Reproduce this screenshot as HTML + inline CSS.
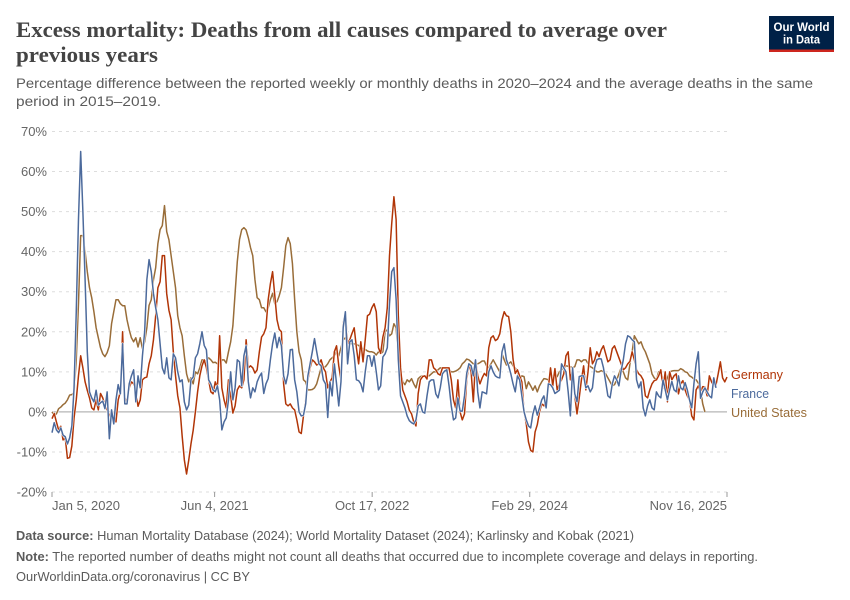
<!DOCTYPE html>
<html lang="en">
<head>
<meta charset="utf-8">
<title>Excess mortality</title>
<style>
html,body{margin:0;padding:0;background:#fff;}
svg{display:block;font-family:"Liberation Sans",sans-serif;}
</style>
</head>
<body>
<svg id="chart" xmlns="http://www.w3.org/2000/svg" width="850" height="600" viewBox="0 0 850 600">
  <rect width="850" height="600" fill="#fff"/>
  <g font-family="'Liberation Serif',serif" font-weight="700" font-size="22" fill="#444">
    <text x="16" y="37" textLength="651" lengthAdjust="spacingAndGlyphs">Excess mortality: Deaths from all causes compared to average over</text>
    <text x="16" y="62" textLength="142" lengthAdjust="spacingAndGlyphs">previous years</text>
  </g>
  <g font-size="14" fill="#5b5b5b">
    <text x="16" y="88" textLength="797" lengthAdjust="spacingAndGlyphs">Percentage difference between the reported weekly or monthly deaths in 2020–2024 and the average deaths in the same</text>
    <text x="16" y="106" textLength="145" lengthAdjust="spacingAndGlyphs">period in 2015–2019.</text>
  </g>
  <g>
    <rect x="769" y="16" width="65" height="36" fill="#002147"/>
    <rect x="769" y="49.5" width="65" height="2.5" fill="#ce261e"/>
    <text x="801.5" y="31" text-anchor="middle" font-size="12" font-weight="700" fill="#fff" textLength="56" lengthAdjust="spacingAndGlyphs">Our World</text>
    <text x="801.5" y="43.5" text-anchor="middle" font-size="12" font-weight="700" fill="#fff" textLength="37" lengthAdjust="spacingAndGlyphs">in Data</text>
  </g>
  <g id="grid"></g>
  <g id="xaxis"></g>
  <g id="series"></g>
  <g font-size="13">
    <text x="731" y="379" fill="#B13507" textLength="52" lengthAdjust="spacingAndGlyphs">Germany</text>
    <text x="731" y="398" fill="#4C6A9C" textLength="38" lengthAdjust="spacingAndGlyphs">France</text>
    <text x="731" y="417" fill="#996D39" textLength="76" lengthAdjust="spacingAndGlyphs">United States</text>
  </g>
  <g font-size="13" fill="#5b5b5b">
    <text x="16" y="540" textLength="618" lengthAdjust="spacingAndGlyphs"><tspan font-weight="700">Data source:</tspan> Human Mortality Database (2024); World Mortality Dataset (2024); Karlinsky and Kobak (2021)</text>
    <text x="16" y="561" textLength="742" lengthAdjust="spacingAndGlyphs"><tspan font-weight="700">Note:</tspan> The reported number of deaths might not count all deaths that occurred due to incomplete coverage and delays in reporting.</text>
    <text x="16" y="581" textLength="234" lengthAdjust="spacingAndGlyphs">OurWorldinData.org/coronavirus | CC BY</text>
  </g>
</svg>
<script>
const startDate = "2020-01-05";
const endDate = "2025-11-16";
const yTickValues = [-20, -10, 0, 10, 20, 30, 40, 50, 60, 70];
const xTickDates = ["2020-01-05", "2021-06-04", "2022-10-17", "2024-02-29", "2025-11-16"];
const xTickLabels = ["Jan 5, 2020", "Jun 4, 2021", "Oct 17, 2022", "Feb 29, 2024", "Nov 16, 2025"];

const franceValues = [
-5.2,-2.7,-4.5,-5.2,-4,-5.8,-6.2,-8,-6.5,-3.5,
6,25,48,65,50,33,15,5,3.5,2.5,
5.4,1.7,2.3,2.7,0.8,5,-6.7,0.5,-3,3,
6.8,4.5,17,2,2,7,9,10.5,2.5,9,
6,14,20,33,38,35,29.5,26,23,17,
11,9.5,13.5,8.5,8,14.5,13.5,10,7.5,8,
2.5,0.5,1.7,8,8.7,13.5,14.5,17,20,16.6,15.5,8,
7,5.5,5,6.5,3,-4.5,-2.5,-1.5,3,10,3,6,13,12.5,6.5,14,16.5,7.5,3.5,6,5,7.5,8.8,9.7,
4.6,7,8.3,13,17,19.7,16,18.6,16.5,9,7,9.5,15.5,15.6,8,5,0,-1,-0.8,2,9,12,15,18.3,15,12,11.5,8,7,-1.4,
7.5,4,12,7,1.5,7.5,21,25,12,17.5,18,14,8,7.8,7,5,10,14,14,11.4,14,10,5.5,
6.5,13.7,14.5,16,27,35,36,28,13,4,2.5,1,-1,-2.2,-2.7,-3,-2,1.5,2,0,-0.3,4,7.5,8,8,4.5,3.5,6,9.5,10.2,10.5,6.5,1.5,-2,-1.5,3.5,0.2,0.2,4,9.6,12,11.5,9,13,5,1,5,4.8,4.5,10,11.5,10,9,8.6,8.5,15,17,13,11.5,9.5,7,5,9,8,4,0,-2,-3.5,-4,-0.5,1.5,-0.8,1,3,4,1,7,6.8,6,4.6,5,5.4,
12,11,10,5,-1,11,4.5,2.5,8.8,9,9,6,6.5,5,6,11,13,13.3,13.2,11,7.5,4,3.5,7,9,8,6.5,10.3,13,17,19,18.7,18,17.5,8,6,7.5,1,-1,1.5,3,1,0.5,5,4,3.5,8,5.5,3,5.5,7.6,5.5,5,9,6,5.5,7.3,5.5,3,1,7,12,15,3.4,5,6,5,4,3.5,8.5,6
];

const germanyValues = [
-1.7,-0.4,-2.5,-4.5,-3.6,-7,-6.5,-11.6,-11.4,-8.5,
-1.5,3,9,14,11,7.5,5.4,3.5,1,0.5,
3,0.5,4.6,3.5,1.5,0.5,-1,0,-0.5,-2.5,
3,5,20,3.5,2.5,6,7.5,7,5,1.4,
3,8,8.5,8.7,12,14,18,24,31,32.5,
39,39,29.5,25.4,23,15,9,4,1,-6,
-12,-15.5,-12,-8,-4.6,0,5,9,11.5,13,11,8,
5,4.5,7.5,6,19,6,3,1,8,4,-0.3,1.5,5.5,6.5,6,8,18,11,11.5,11,9.7,10.5,15,18.7,
19.5,21,28,32,35,29,23,20.6,20,7,2,1.5,2,1,0.5,-2,-5,-5.4,-1,3,8,11,13,12.5,11.7,12,13,11,10,6,
7.5,8.5,15,16.5,11.5,8,22,25,17,18,19.6,21,16,12,17.5,12.5,18,24,24.4,26,27,25,16,
14.6,18.7,21,26,39,47,53.7,48,24,11,5.5,4,2.5,0.4,-0.5,-2.5,-3.5,4.6,8,8.8,9,8.2,13,13,11,10.5,9.5,9.2,11,11,11,11,8,3,1,8,0,-2,-0.5,8,12,10,2.5,13,9,7,8.5,9.6,9,16,18.5,19,17.8,18.2,19.5,23,25,24,23.8,20,13.2,9.6,10.5,9,7.5,0,-3,-7.5,-9.6,-10,-5,-3.2,0,2,1.5,3,6,11,6.5,10.8,5.5,7,
8,9.5,14,15,8,10.5,4,-0.5,3.5,8,11.5,5.5,10,16,12,13,15,13.8,15.5,16.5,14.5,12.5,13,15.8,16.5,15,13.5,12,10.5,11,12,12.6,15,13,10.5,9.5,9,8,4,3.5,5.5,7,7.8,8,9,10.5,6,10,2.5,10,8,9,9.5,4.5,7,7.8,5.5,4,3,-1,-2,5.5,6.5,5,6.3,6.2,4,9,7.5,6.5,6.7,9.5,12.5,8.5,7.5,8.7
];

const unitedStatesValues = [
0,-0.8,-0.5,0.8,1.2,1.8,2.2,3,4.2,4.3,
5,13,27,44,44,40,35,31,28.5,25,
21,18.5,16,14.5,13.8,14.8,16.5,22,25,28,
28,27,26.5,26.5,23,20.5,18.5,17.5,18.5,16.2,
18.5,15.8,17.5,21,26.6,28,33,36,42,45.5,
46.5,51.5,45,43,39,35,31,24,21,19,
14,9.5,7.5,8.5,7,10,9.5,11,13,13,12.5,13.5,
13,12.3,12.4,12,11.5,13,13,12.2,15,17.5,21.5,29.6,37.5,43,45.5,46,45.4,43.5,41,39,33,28.5,28,26,
26,25,26,28,29.6,27,27.5,29,31,36,41.5,43.5,42,37,28,20,15,13,8,7.5,5.5,5.5,5.6,6,7,9,11,11,11.3,12,
13,13.5,14,15,14,16,18,18.5,17.3,17,17,17,16.8,16.6,16,15.8,15.6,15.2,15,15,14.8,14.2,15,
14.5,15,20,20.5,19,19.5,22,21,14,10,7.5,6.8,8,7.5,8.3,7,6,8.3,8.8,9,9,9,9,9.5,10,10,10.5,11,11,11,11,10.5,10,10,10.2,10.5,11,12,12.5,13.2,13,12.5,12,12,12,12.3,12.7,12.7,11.5,11,12,13,12,11,10,14.5,13,11.7,12,12.5,11.5,11,10,8,9,8.8,5.8,7.5,6.5,5.4,6.5,5,6.5,7.5,8.3,8.2,8,8.5,9,9,8.8,10,
10.5,11,11.5,11.4,11.3,11,11.3,13,13,12.5,13,13,12,11.3,11,10.5,10,10,10.3,10,9.5,8.5,7.5,6.5,6.8,8,9.5,11,10,8.5,8,12,15,19,18,17,17.5,16,15,13.5,12,9.5,8.5,8,10,9.8,8,7,8.5,10,10.2,10.3,10.3,10.3,10.8,10.5,10,9.8,9,8.7,8.2,8,7.2,5.5,2,0
];

const seriesNames = ["united-states", "germany", "france"];
const seriesColors = ["#996D39", "#B13507", "#4C6A9C"];
const seriesData = [unitedStatesValues, germanyValues, franceValues];

const SVGNS = "http://www.w3.org/2000/svg";
const plot = { left: 52, right: 727, top: 131.5, bottom: 492 };
const DAY = 86400000;
const t0 = Date.parse(startDate);
const t1 = Date.parse(endDate);
function xScaleTime(t) { return plot.left + (t - t0) / (t1 - t0) * (plot.right - plot.left); }
function xScaleWeek(i) { return xScaleTime(t0 + i * 7 * DAY); }
function yScale(v) { return plot.bottom - (v + 20) / 90 * (plot.bottom - plot.top); }

const gridG = document.getElementById("grid");
yTickValues.forEach(function (v) {
  const y = yScale(v);
  const line = document.createElementNS(SVGNS, "line");
  
  
  line.setAttribute("x1", plot.left);
  line.setAttribute("x2", plot.right);
  line.setAttribute("y1", y);
  line.setAttribute("y2", y);
  if (v === 0) {
    line.setAttribute("stroke", "#b5b5b5");
    line.setAttribute("stroke-width", "1.2");
  } else {
    line.setAttribute("stroke", "#dddddd");
    line.setAttribute("stroke-width", "1");
    line.setAttribute("stroke-dasharray", "3,4");
  }
  gridG.appendChild(line);
  const label = document.createElementNS(SVGNS, "text");
  
  
  label.setAttribute("x", 47);
  label.setAttribute("y", y + 4.5);
  label.setAttribute("text-anchor", "end");
  label.setAttribute("font-size", "13");
  label.setAttribute("fill", "#666");
  label.textContent = v + "%";
  gridG.appendChild(label);
});

const xG = document.getElementById("xaxis");
xTickDates.forEach(function (d, k) {
  const x = xScaleTime(Date.parse(d));
  const tick = document.createElementNS(SVGNS, "line");
  
  
  tick.setAttribute("x1", x);
  tick.setAttribute("x2", x);
  tick.setAttribute("y1", plot.bottom);
  tick.setAttribute("y2", plot.bottom + 5);
  tick.setAttribute("stroke", "#999");
  tick.setAttribute("stroke-width", "1");
  xG.appendChild(tick);
  const label = document.createElementNS(SVGNS, "text");
  
  
  label.setAttribute("y", 510);
  label.setAttribute("font-size", "13");
  label.setAttribute("fill", "#666");
  if (k === 0) {
    label.setAttribute("x", x);
    label.setAttribute("text-anchor", "start");
  } else if (k === xTickDates.length - 1) {
    label.setAttribute("x", x);
    label.setAttribute("text-anchor", "end");
  } else {
    label.setAttribute("x", x);
    label.setAttribute("text-anchor", "middle");
  }
  label.textContent = xTickLabels[k];
  xG.appendChild(label);
});

const seriesG = document.getElementById("series");
seriesData.forEach(function (vals, s) {
  const d = vals.map(function (v, i) {
    return (i ? "L" : "M") + xScaleWeek(i).toFixed(2) + " " + yScale(v).toFixed(2);
  }).join("");
  const halo = document.createElementNS(SVGNS, "path");
  
  
  halo.setAttribute("d", d);
  halo.setAttribute("fill", "none");
  halo.setAttribute("stroke", "#fff");
  halo.setAttribute("stroke-width", "2.5");
  halo.setAttribute("stroke-linejoin", "round");
  seriesG.appendChild(halo);
  const path = document.createElementNS(SVGNS, "path");
  
  
  path.setAttribute("d", d);
  path.setAttribute("fill", "none");
  path.setAttribute("stroke", seriesColors[s]);
  path.setAttribute("stroke-width", "1.5");
  path.setAttribute("stroke-linejoin", "round");
  seriesG.appendChild(path);
});
</script>
</body>
</html>
